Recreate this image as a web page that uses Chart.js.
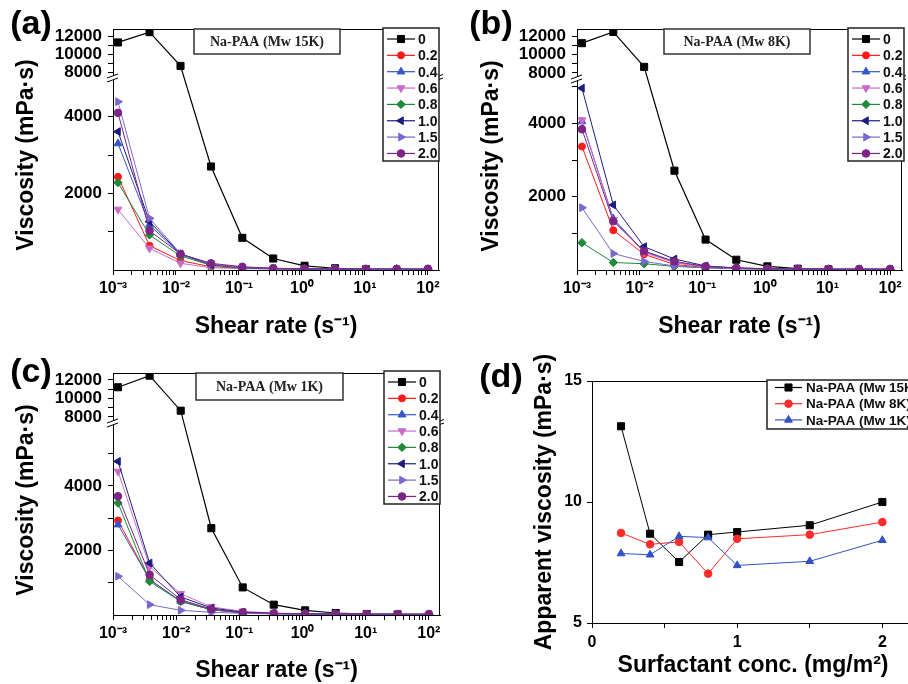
<!DOCTYPE html>
<html><head><meta charset="utf-8">
<script src="https://cdn.jsdelivr.net/npm/chart.js@4.4.1/dist/chart.umd.min.js"></script>
<style>
html,body{margin:0;padding:0;background:#fff;width:908px;height:684px;overflow:hidden;position:relative;}
.p{position:absolute;}
canvas{display:block;}
</style></head><body>
<div class="p" style="left:0;top:0;"><canvas id="ca" width="450" height="340"></canvas></div>
<div class="p" style="left:450px;top:0;"><canvas id="cb" width="458" height="340"></canvas></div>
<div class="p" style="left:0;top:340px;"><canvas id="cc" width="450" height="344"></canvas></div>
<div class="p" style="left:450px;top:340px;"><canvas id="cd" width="470" height="344"></canvas></div>
<script>
// ---------------- DATA ----------------
const shearRate = [0.0012, 0.0038, 0.0118, 0.036, 0.113, 0.35, 1.1, 3.35, 10.4, 32, 100];
const surfLabels = ['0', '0.2', '0.4', '0.6', '0.8', '1.0', '1.5', '2.0'];

// (a) Na-PAA Mw 15K  (mPa·s)
const a_0  = [11300, 12450, 8680, 2700, 840, 300, 110, 45, 20];
const a_02 = [2430, 635, 245, 85, 45, 30, 22, 18, 15, 15, 15];
const a_04 = [3300, 1175, 410, 130, 60, 35, 25, 20, 18, 18, 18];
const a_06 = [1580, 565, 175, 60, 35, 25, 20, 15, 15, 15, 15];
const a_08 = [2280, 915, 365, 125, 55, 35, 25, 20, 18, 18, 18];
const a_10 = [3610, 1260, 420, 140, 65, 38, 25, 20, 18, 18, 18];
const a_15 = [4390, 1350, 425, 150, 70, 40, 28, 22, 20, 20, 20];
const a_20 = [4100, 1025, 415, 175, 85, 45, 35, 30, 30, 30, 30];

// (b) Na-PAA Mw 8K
const b_0  = [11250, 12480, 8660, 2710, 830, 280, 100, 35, 15];
const b_02 = [3370, 1085, 430, 150, 70, 40, 25, 20, 18, 18, 18];
const b_04 = [4050, 1400, 500, 210, 90, 45, 30, 22, 20, 20, 20];
const b_06 = [4090, 1370, 480, 200, 85, 45, 30, 22, 20, 20, 20];
const b_08 = [745, 205, 170, 100, 60, 35, 25, 20, 18, 18, 18];
const b_10 = [4960, 1776, 637, 300, 110, 55, 35, 25, 20, 20, 20];
const b_15 = [1700, 448, 233, 110, 60, 35, 25, 20, 18, 18, 18];
const b_20 = [3840, 1330, 520, 233, 100, 55, 35, 28, 25, 25, 25];

// (c) Na-PAA Mw 1K
const c_0  = [11210, 12460, 8680, 2690, 855, 320, 145, 62, 30, 20];
const c_02 = [2930, 1094, 423, 165, 65, 40, 30, 25, 20, 20, 20];
const c_04 = [2800, 1100, 430, 165, 70, 40, 30, 25, 20, 20, 20];
const c_06 = [4450, 1500, 660, 250, 113, 60, 40, 30, 25, 25, 25];
const c_08 = [3470, 1040, 420, 165, 65, 40, 30, 25, 20, 20, 20];
const c_10 = [4760, 1610, 560, 217, 90, 50, 35, 28, 22, 22, 22];
const c_15 = [1200, 320, 145, 83, 50, 35, 25, 20, 18, 18, 18];
const c_20 = [3680, 1250, 475, 180, 80, 50, 35, 28, 25, 25, 25];

// (d) apparent viscosity vs surfactant concentration
const surfConc = [0.2, 0.4, 0.6, 0.8, 1.0, 1.5, 2.0];
const appVisc15K = [13.13, 8.69, 7.52, 8.65, 8.76, 9.04, 10.0];
const appVisc8K  = [8.72, 8.25, 8.35, 7.04, 8.48, 8.65, 9.17];
const appVisc1K  = [7.87, 7.82, 8.58, 8.53, 7.38, 7.55, 8.42];
const dLabels = ['Na-PAA (Mw 15K)', 'Na-PAA (Mw 8K)', 'Na-PAA (Mw 1K)'];

// tick labels
const xMajorTicks  = [0.001, 0.01, 0.1, 1, 10, 100];
const xMajorLabels = ['10⁻³', '10⁻²', '10⁻¹', '10⁰', '10¹', '10²'];
const yTicksA  = [1000, 2000, 3000, 4000, 8000, 9000, 10000, 11000, 12000];
const yLabelsA = ['', '2000', '', '4000', '8000', '', '10000', '', '12000'];
const yTicksBC  = [1000, 2000, 3000, 4000, 5000, 8000, 9000, 10000, 11000, 12000];
const yLabelsBC = ['', '2000', '', '4000', '', '8000', '', '10000', '', '12000'];
const concTicks  = [0, 0.5, 1, 1.5, 2];
const concLabels = ['0', '', '1', '', '2'];
const avTicks  = [5, 10, 15];
const avLabels = ['5', '10', '15'];

// ---------------- STYLE ----------------
const FONT = '"Liberation Sans", Arial, Helvetica, sans-serif';
Chart.defaults.font.family = FONT;
Chart.defaults.font.weight = 'bold';
Chart.defaults.color = '#000';

const seriesColors = ['#000000', '#ff1a1a', '#3556c8', '#c86cc8', '#1f8a3a', '#1c1c80', '#7a68d0', '#7d2486'];
const markerStyles = [
  {style: 'rect', r: 5, rot: 0}, {style: 'circle', r: 3.5, rot: 0}, {style: 'triangle', r: 4.5, rot: 0},
  {style: 'triangle', r: 4.5, rot: 180}, {style: 'rectRot', r: 4.2, rot: 0}, {style: 'triangle', r: 4.5, rot: -90},
  {style: 'triangle', r: 4.5, rot: 90}, {style: 'circle', r: 3.8, rot: 0}
];

// Linear scale with an axis break (lower part, gap, upper part)
class BrokenLinearScale extends Chart.LinearScale {
  _brk() {
    const o = this.options.brk;
    const H = this.bottom - this.top;
    return {o: o, lowPx: H - o.upPx - o.gapPx};
  }
  getPixelForValue(value) {
    if (value === null || value === undefined || isNaN(value)) return NaN;
    const {o, lowPx} = this._brk();
    if (value >= o.upMin) return this.top + (o.upMax - value) / (o.upMax - o.upMin) * o.upPx;
    if (value <= o.lowMax) return this.bottom - value / o.lowMax * lowPx;
    return this.bottom - lowPx - (value - o.lowMax) / (o.upMin - o.lowMax) * o.gapPx;
  }
  getValueForPixel(pixel) {
    const {o, lowPx} = this._brk();
    if (pixel <= this.top + o.upPx) return o.upMax - (pixel - this.top) / o.upPx * (o.upMax - o.upMin);
    if (pixel >= this.bottom - lowPx) return (this.bottom - pixel) / lowPx * o.lowMax;
    return o.lowMax + (this.bottom - lowPx - pixel) / o.gapPx * (o.upMin - o.lowMax);
  }
}
BrokenLinearScale.id = 'brokenLinear';
BrokenLinearScale.defaults = {};
Chart.register(BrokenLinearScale);

function labelLookup(values, labels) {
  return (v) => {
    const i = values.findIndex(t => Math.abs(t - v) <= Math.abs(t) * 1e-6 + 1e-12);
    return i >= 0 ? labels[i] : '';
  };
}
function logTickValues(max) {
  const out = [];
  for (let d = -3; d <= 2; d++) {
    for (let m = 1; m <= 9; m++) {
      const v = m * Math.pow(10, d);
      if (v <= max * 1.0001) out.push({value: v});
    }
  }
  return out;
}

function drawMarker(ctx, style, r, rot, x, y) {
  Chart.helpers.drawPoint(ctx, {pointStyle: style, radius: r, rotation: rot, borderWidth: 1}, x, y);
}

// decoration plugin (frame, axis break, legend, boxed title, panel label, y title)
const decor = {
  id: 'decor',
  afterDraw(chart, args, o) {
    const ctx = chart.ctx, A = chart.chartArea;
    ctx.save();
    ctx.strokeStyle = '#000';
    ctx.lineWidth = 1;
    ctx.beginPath();
    ctx.moveTo(A.left, Math.round(A.top) + 0.5); ctx.lineTo(A.right, Math.round(A.top) + 0.5);
    ctx.moveTo(Math.round(A.right) - 0.5, A.top); ctx.lineTo(Math.round(A.right) - 0.5, A.bottom);
    ctx.stroke();

    if (o.breakAxis) {
      const ys = chart.scales[o.breakAxis];
      const bo = ys.options.brk;
      const b = Math.round(ys.top + bo.upPx + bo.gapPx / 2);
      ctx.fillStyle = '#fff';
      ctx.fillRect(A.left - 2, b - 2, 4, 4);
      ctx.fillRect(A.right - 2, b - 2, 4, 4);
      ctx.beginPath();
      ctx.moveTo(A.left - 6, b + 0); ctx.lineTo(A.left + 5, b - 4);
      ctx.moveTo(A.left - 6, b + 4); ctx.lineTo(A.left + 5, b);
      ctx.moveTo(A.right - 3, b - 1); ctx.lineTo(A.right + 4, b - 3.5);
      ctx.moveTo(A.right - 3, b + 2.5); ctx.lineTo(A.right + 4, b);
      ctx.stroke();
    }

    if (o.titleBox) {
      const T = o.titleBox;
      const x = A.left + T.dx, y = A.top;
      ctx.fillStyle = '#fff';
      ctx.fillRect(x, y, T.w, T.h);
      ctx.lineWidth = 1.5; ctx.strokeStyle = '#333';
      ctx.strokeRect(x, y, T.w, T.h);
      ctx.fillStyle = '#222';
      ctx.font = 'bold 14px "Liberation Serif", "Times New Roman", serif';
      ctx.textAlign = 'center'; ctx.textBaseline = 'middle';
      ctx.fillText(T.text, x + T.w / 2, y + T.h / 2 + 1);
    }

    if (o.legend) {
      const L = o.legend;
      const bx = A.left + L.dx, by = A.top + L.dy;
      ctx.fillStyle = '#fff';
      ctx.fillRect(bx, by, L.w, L.h);
      ctx.lineWidth = 1.5; ctx.strokeStyle = '#222';
      ctx.strokeRect(bx, by, L.w, L.h);
      chart.data.datasets.forEach((d, i) => {
        const y = by + L.row0 + i * L.rowH;
        ctx.strokeStyle = d.borderColor; ctx.lineWidth = 1.2;
        ctx.beginPath(); ctx.moveTo(bx + L.lx0, y); ctx.lineTo(bx + L.lx1, y); ctx.stroke();
        ctx.fillStyle = d.backgroundColor; ctx.strokeStyle = d.borderColor; ctx.lineWidth = 1;
        drawMarker(ctx, d.pointStyle, d.pointRadius, d.pointRotation || 0, bx + (L.lx0 + L.lx1) / 2, y);
        ctx.fillStyle = '#111';
        ctx.font = L.font;
        ctx.textAlign = 'left'; ctx.textBaseline = 'middle';
        ctx.fillText(d.label, bx + L.tx, y + 1);
      });
    }

    if (o.panelLabel) {
      ctx.fillStyle = '#000';
      ctx.font = 'bold 34px ' + FONT;
      ctx.textAlign = 'center'; ctx.textBaseline = 'middle';
      ctx.fillText(o.panelLabel.text, o.panelLabel.x, o.panelLabel.y);
    }
    if (o.yTitle) {
      ctx.save();
      ctx.translate(o.yTitle.x, o.yTitle.y);
      ctx.rotate(-Math.PI / 2);
      ctx.fillStyle = '#000';
      ctx.font = 'bold 23px ' + FONT;
      ctx.textAlign = 'center'; ctx.textBaseline = 'middle';
      ctx.fillText(o.yTitle.text, 0, 0);
      ctx.restore();
    }
    ctx.restore();
  }
};

function gridOpts() {
  return {drawOnChartArea: false, drawTicks: true, tickLength: 5, tickColor: '#000', color: '#000', lineWidth: 1};
}

function viscChart(id, p) {
  const ds = p.series.map((vals, i) => {
    const st = markerStyles[i];
    return {
      label: surfLabels[i],
      data: vals.map((v, k) => ({x: shearRate[k], y: v})),
      borderColor: seriesColors[i], backgroundColor: seriesColors[i],
      borderWidth: i === 0 ? 1.2 : 1,
      pointStyle: st.style, pointRadius: st.r, pointRotation: st.rot,
      pointBorderWidth: 1, pointHoverRadius: st.r,
      order: 20 - i, tension: 0
    };
  });
  return new Chart(document.getElementById(id), {
    type: 'line',
    data: {datasets: ds},
    plugins: [decor],
    options: {
      responsive: false, animation: false, events: [],
      layout: {padding: p.padding},
      plugins: {
        legend: {display: false}, tooltip: {enabled: false},
        decor: {
          breakAxis: 'y',
          titleBox: p.titleBox,
          legend: p.legend,
          panelLabel: p.panelLabel,
          yTitle: p.yTitle
        }
      },
      scales: {
        x: {
          type: 'logarithmic', position: 'bottom', min: 0.001, max: p.xMax,
          afterBuildTicks: s => { s.ticks = logTickValues(p.xMax); },
          afterFit: s => { s.height = p.xHeight; },
          ticks: {autoSkip: false, maxRotation: 0, minRotation: 0, padding: 4, color: '#000',
                  font: {size: 16, weight: 'bold'}, callback: labelLookup(xMajorTicks, xMajorLabels)},
          grid: gridOpts(),
          border: {display: true, color: '#000', width: 1},
          title: {display: true, text: 'Shear rate (s⁻¹)', color: '#000',
                  font: {size: 23, weight: 'bold'}, padding: {top: 0, bottom: 0}}
        },
        y: {
          type: 'brokenLinear', position: 'left', min: 0, max: p.brk.upMax,
          brk: p.brk,
          afterBuildTicks: s => { s.ticks = p.yTicks.map(v => ({value: v})); },
          afterFit: s => { s.width = p.yWidth; },
          ticks: {autoSkip: false, padding: 6, color: '#000', font: {size: 17, weight: 'bold'},
                  callback: labelLookup(p.yTicks, p.yLabels)},
          grid: gridOpts(),
          border: {display: true, color: '#000', width: 1}
        }
      }
    }
  });
}

const legendABC = (dx, dy) => ({dx: dx, dy: dy, w: 56, h: 133, row0: 11, rowH: 16.35,
  lx0: 4, lx1: 32, tx: 35, font: 'bold 14px ' + FONT});

viscChart('ca', {
  series: [a_0, a_02, a_04, a_06, a_08, a_10, a_15, a_20],
  padding: {left: 0, top: 29, right: 11, bottom: 0},
  yWidth: 113, xHeight: 70, xMax: 150,
  brk: {lowMax: 4970, upMin: 7500, upMax: 12800, upPx: 47.5, gapPx: 3},
  yTicks: yTicksA, yLabels: yLabelsA,
  titleBox: {text: 'Na-PAA (Mw 15K)', dx: 81, w: 146, h: 25},
  legend: legendABC(270, -1),
  panelLabel: {text: '(a)', x: 31, y: 25},
  yTitle: {text: 'Viscosity (mPa·s)', x: 27, y: 155}
});
viscChart('cb', {
  series: [b_0, b_02, b_04, b_06, b_08, b_10, b_15, b_20],
  padding: {left: 0, top: 29, right: 3, bottom: 0},
  yWidth: 127, xHeight: 70, xMax: 155,
  brk: {lowMax: 5170, upMin: 7500, upMax: 12800, upPx: 48.5, gapPx: 3},
  yTicks: yTicksBC, yLabels: yLabelsBC,
  titleBox: {text: 'Na-PAA (Mw 8K)', dx: 87, w: 146, h: 25},
  legend: legendABC(271, -1),
  panelLabel: {text: '(b)', x: 41, y: 25},
  yTitle: {text: 'Viscosity (mPa·s)', x: 42, y: 156}
});
viscChart('cc', {
  series: [c_0, c_02, c_04, c_06, c_08, c_10, c_15, c_20],
  padding: {left: 0, top: 33, right: 10, bottom: 0},
  yWidth: 113, xHeight: 69, xMax: 150,
  brk: {lowMax: 5900, upMin: 7500, upMax: 12750, upPx: 48.6, gapPx: 3},
  yTicks: yTicksBC, yLabels: yLabelsBC,
  titleBox: {text: 'Na-PAA (Mw 1K)', dx: 83, w: 147, h: 27},
  legend: legendABC(271, -2),
  panelLabel: {text: '(c)', x: 31, y: 33},
  yTitle: {text: 'Viscosity (mPa·s)', x: 27, y: 160}
});

// panel d
(function () {
  const sets = [appVisc15K, appVisc8K, appVisc1K];
  const cols = ['#000000', '#ff2a2a', '#3352c4'];
  const mk = [{style: 'rect', r: 5}, {style: 'circle', r: 3.8}, {style: 'triangle', r: 4.5}];
  const ds = sets.map((vals, i) => ({
    label: dLabels[i],
    data: vals.map((v, k) => ({x: surfConc[k], y: v})),
    borderColor: cols[i], backgroundColor: cols[i], borderWidth: 1,
    pointStyle: mk[i].style, pointRadius: mk[i].r, pointRotation: 0, pointBorderWidth: 1,
    pointHoverRadius: mk[i].r, order: 10 - i, tension: 0
  }));
  new Chart(document.getElementById('cd'), {
    type: 'line',
    data: {datasets: ds},
    plugins: [decor],
    options: {
      responsive: false, animation: false, events: [],
      layout: {padding: {left: 0, top: 41, right: 0, bottom: 0}},
      plugins: {
        legend: {display: false}, tooltip: {enabled: false},
        decor: {
          legend: {dx: 175, dy: -1, w: 150, h: 49, row0: 7.5, rowH: 16.2, lx0: 8, lx1: 35, tx: 39,
                   font: 'bold 13.5px ' + FONT},
          panelLabel: {text: '(d)', x: 51, y: 38}
        }
      },
      scales: {
        x: {
          type: 'linear', position: 'bottom', min: 0, max: 2.218,
          afterBuildTicks: s => { s.ticks = concTicks.map(v => ({value: v})); },
          afterFit: s => { s.height = 61; },
          ticks: {autoSkip: false, maxRotation: 0, padding: 5, color: '#000', font: {size: 16, weight: 'bold'},
                  callback: labelLookup(concTicks, concLabels)},
          grid: gridOpts(),
          border: {display: true, color: '#000', width: 1},
          title: {display: true, text: 'Surfactant conc. (mg/m²)', color: '#000',
                  font: {size: 23, weight: 'bold'}, padding: {top: 0, bottom: 5}}
        },
        y: {
          type: 'linear', position: 'left', min: 5, max: 15,
          afterBuildTicks: s => { s.ticks = avTicks.map(v => ({value: v})); },
          afterFit: s => { s.width = 142; },
          ticks: {autoSkip: false, padding: 5, color: '#000', font: {size: 16, weight: 'bold'},
                  callback: labelLookup(avTicks, avLabels)},
          grid: gridOpts(),
          border: {display: true, color: '#000', width: 1},
          title: {display: true, text: 'Apparent viscosity (mPa·s)', color: '#000',
                  font: {size: 23, weight: 'bold'}, padding: {top: 81, bottom: 0}}
        }
      }
    }
  });
})();
</script>
</body></html>
